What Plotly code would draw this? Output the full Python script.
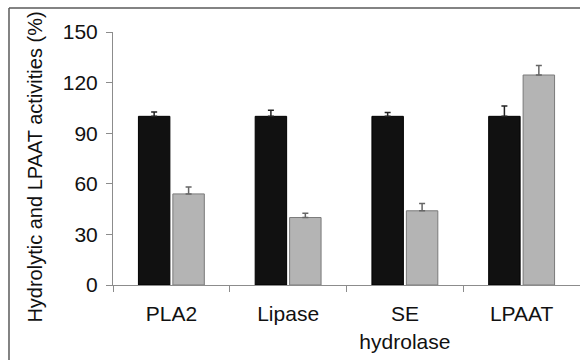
import plotly.graph_objects as go

categories = ["PLA2", "Lipase", "SE<br>hydrolase", "LPAAT"]
control_values = [100, 100, 100, 100]
control_err = [2.5, 3.6, 2.2, 6.1]
treated_values = [54, 40, 44, 124.5]
treated_err = [4.1, 2.6, 4.3, 5.7]
y_ticks = [0, 30, 60, 90, 120, 150]

FONT = "Liberation Sans, Arial, sans-serif"

fig = go.Figure()
fig.add_trace(go.Bar(
    x=categories, y=control_values,
    marker=dict(color="#111111", line=dict(color="#000000", width=1)),
    error_y=dict(type="data", symmetric=False, array=control_err,
                 arrayminus=[0] * 4, color="#222222", thickness=1.5, width=3),
    showlegend=False,
))
fig.add_trace(go.Bar(
    x=categories, y=treated_values,
    marker=dict(color="#b4b4b4", line=dict(color="#7a7a7a", width=1)),
    error_y=dict(type="data", symmetric=False, array=treated_err,
                 arrayminus=[0] * 4, color="#666666", thickness=1.5, width=3),
    showlegend=False,
))

fig.update_layout(
    width=580, height=360,
    margin=dict(l=113, r=0, t=32, b=75),
    paper_bgcolor="white", plot_bgcolor="white",
    barmode="group", bargap=0.41, bargroupgap=0.087,
    font=dict(family=FONT, size=21, color="#111111"),
    xaxis=dict(
        showline=True, linecolor="#8c8c8c", linewidth=1,
        ticks="outside", tickson="boundaries", ticklen=6, tickcolor="#8c8c8c",
        tickfont=dict(size=21), showgrid=False, ticklabelstandoff=10,
    ),
    yaxis=dict(
        range=[0, 150], tickvals=y_ticks, showline=True, linecolor="#8c8c8c",
        linewidth=1, ticks="outside", ticklen=6, tickcolor="#8c8c8c",
        tickfont=dict(size=21), showgrid=False, zeroline=False,
        ticklabelstandoff=4,
    ),
    annotations=[dict(
        text="Hydrolytic and LPAAT activities (%)", textangle=-90,
        xref="paper", yref="paper", x=-0.167, y=0.464,
        xanchor="center", yanchor="middle", showarrow=False,
        font=dict(size=20, family=FONT, color="#111111"),
    )],
    shapes=[
        dict(type="line", xref="paper", yref="paper",
             x0=-0.2227, x1=-0.2227, y0=1.0949, y1=-0.32,
             line=dict(color="#5a5a5a", width=1.5)),
        dict(type="line", xref="paper", yref="paper",
             x0=-0.2227, x1=1.01, y0=1.0949, y1=1.0949,
             line=dict(color="#5a5a5a", width=1.5)),
    ],
)

fig.write_html("out.html")
